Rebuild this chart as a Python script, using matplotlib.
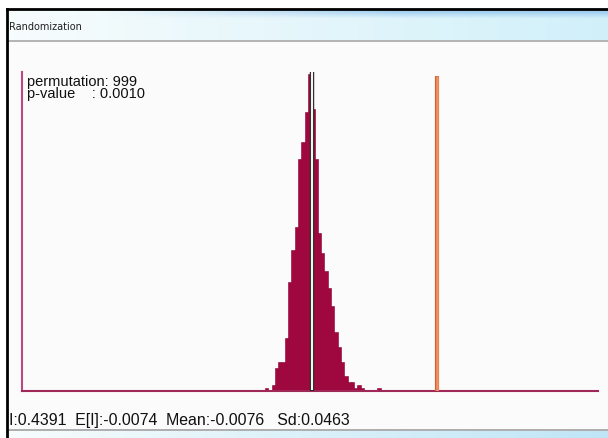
import numpy as np
import matplotlib.pyplot as plt
from matplotlib.patches import Rectangle

# permutation reference distribution of Moran's I (999 permutations)
bin_start = -0.1774
bin_width = 0.0118
counts = [1, 0, 2, 8, 10, 10, 18, 37, 48, 56, 79, 85, 95, 108, 96, 79, 54, 47,
          41, 35, 29, 20, 15, 10, 5, 3, 3, 1, 2, 1, 0, 0, 0, 0, 1]

moran_i = 0.4391
expected_i = -0.0074
perm_mean = -0.0076
perm_sd = 0.0463
n_perm = 999
p_value = 0.0010

W, H = 608, 439
fig = plt.figure(figsize=(W / 100, H / 100), dpi=100)
fig.patch.set_facecolor('white')

# window frame drawn in pixel coordinates
bg = fig.add_axes([0, 0, 1, 1])
bg.set_xlim(0, W)
bg.set_ylim(H, 0)
bg.axis('off')
bg.add_patch(Rectangle((8, 42), W, 390, color='#fbfbfb', zorder=0))

# title bar gradient
grad = np.linspace(0, 1, 256)
bar_rgb = np.zeros((30, 256, 3))
left_c = np.array([0.97, 0.99, 0.99])
right_c = np.array([0.82, 0.94, 0.98])
for i in range(30):
    row = left_c[None, :] * (1 - grad[:, None]) + right_c[None, :] * grad[:, None]
    if i < 8:
        streak = np.clip((grad - 0.15) * 2.0, 0, 1)[:, None] * (1 - i / 8)
        row = row * (1 - 0.5 * streak) + np.array([0.35, 0.62, 0.88]) * 0.5 * streak
    bar_rgb[i] = row
bg.imshow(bar_rgb, extent=(8, W, 41, 11), aspect='auto', zorder=1)
bg.plot([8, W], [41.5, 41.5], color='#a8a8a8', lw=1.2, zorder=2)
bg.text(9, 27, 'Randomization', fontsize=7, family='DejaVu Sans',
        va='center', ha='left', color='#202020', zorder=3)

# bottom strip
bot_rgb = np.zeros((8, 256, 3))
for i in range(8):
    bot_rgb[i] = left_c[None, :] * (1 - grad[:, None]) + np.array([0.75, 0.90, 0.97])[None, :] * grad[:, None]
bg.imshow(bot_rgb, extent=(8, W, H, 432), aspect='auto', zorder=1)
bg.plot([8, W], [431.5, 431.5], color='#a0a0a0', lw=1.2, zorder=2)

# black outer border
bg.plot([7, W], [10, 10], color='black', lw=2, zorder=4)
bg.plot([7, 7], [10, H], color='black', lw=2, zorder=4)

# histogram axes
ax = fig.add_axes([22 / W, 47 / H, 576 / W, 319 / H])
ax.patch.set_alpha(0)
edges = bin_start + bin_width * np.arange(len(counts))
ax.bar(edges, counts, width=bin_width, align='edge', color='#a3063e',
       edgecolor='#8a0032', linewidth=0.4)

top = max(counts)
# observed statistic
ax.vlines(moran_i, 0, top - 0.5, color='#c8683a', lw=3.0, zorder=3)
ax.vlines(moran_i, 0, top - 0.5, color='#f59060', lw=1.8, zorder=4)
# mean of the reference distribution: white bar with dark outline
ax.vlines(perm_mean, 0, top + 1, color='#2a2a2a', lw=3.2, zorder=3)
ax.vlines(perm_mean, 0.3, top + 0.7, color='#f6f3ee', lw=1.5, zorder=4)

ax.set_xlim(-1.0458, 1.0128)
ax.set_ylim(0, 108.7)
for s in ['top', 'right']:
    ax.spines[s].set_visible(False)
ax.spines['left'].set_color('#b84a80')
ax.spines['bottom'].set_color('#a02858')
ax.spines['left'].set_linewidth(1.5)
ax.spines['bottom'].set_linewidth(1.5)
ax.set_xticks([])
ax.set_yticks([])

txt_font = ['Liberation Sans', 'DejaVu Sans']
bg.text(27, 75, 'permutation: %d\np-value    : %.4f' % (n_perm, p_value),
        fontsize=10.5, family=txt_font, va='top', ha='left',
        linespacing=0.82, color='#101010')
bg.text(9, 421, 'I:%.4f  E[I]:%.4f  Mean:%.4f   Sd:%.4f' % (moran_i, expected_i, perm_mean, perm_sd),
        fontsize=11.4, family=txt_font, va='center', ha='left', color='#101010')

fig.savefig('out.png', dpi=100)
